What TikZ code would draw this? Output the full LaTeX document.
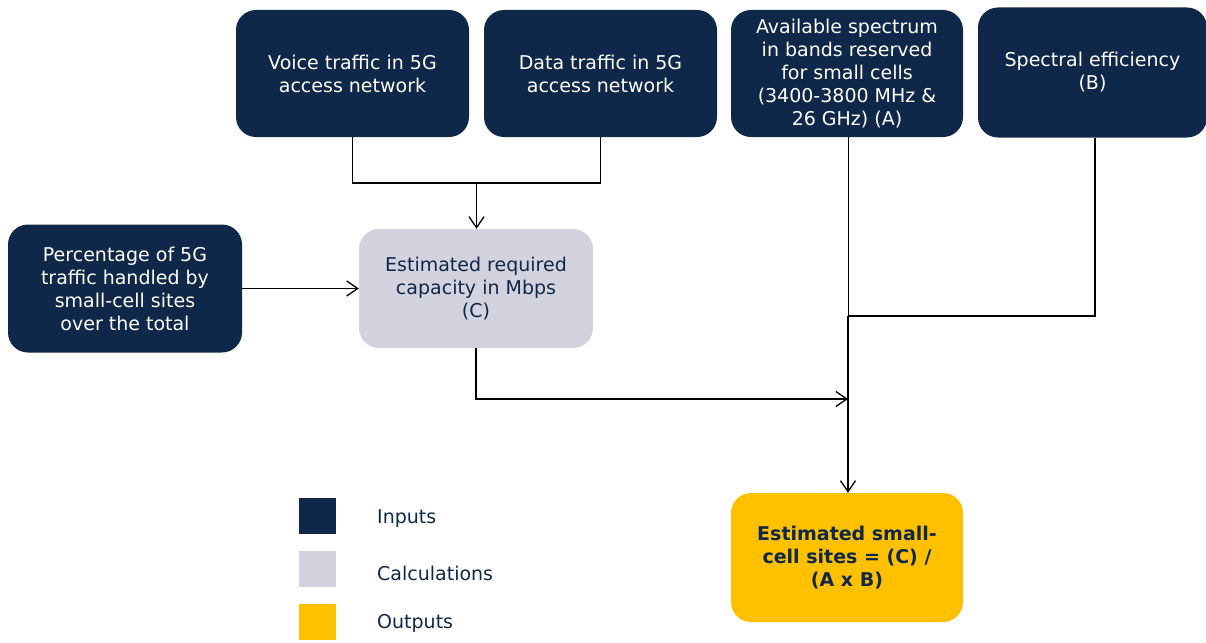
\documentclass[tikz,border=0pt]{standalone}
\usepackage{fontspec}
\setmainfont{DejaVu Sans}
\usetikzlibrary{arrows.meta}
\definecolor{navy}{HTML}{0F2849}
\definecolor{calcgray}{HTML}{D2D3DF}
\definecolor{outgold}{HTML}{FFC000}
\begin{document}
\begin{tikzpicture}[x=1pt,y=-1pt,
  base/.style={rounded corners=20pt, align=center, inner sep=0pt,
    font=\fontsize{19}{23}\selectfont},
  inbox/.style={base, fill=navy, text=white},
  calcbox/.style={base, fill=calcgray, text=navy},
  outbox/.style={base, fill=outgold, text=navy, font=\fontsize{19}{23}\selectfont\bfseries},
  legsq/.style={minimum width=37pt, minimum height=36pt, inner sep=0pt},
  legtxt/.style={anchor=west, text=navy, inner sep=0pt, font=\fontsize{19}{20}\selectfont},
  conn/.style={line width=1.3pt, black},
  thinconn/.style={line width=0.6pt, black},
  arr/.style={-{Straight Barb[length=11pt,width=15pt,line width=1.3pt]}}
]
\useasboundingbox (0,0) rectangle (1206,642);

\node[inbox, minimum width=233pt, minimum height=127pt] (voice) at (352.5,73.5)
  {Voice traffic in 5G\\access network};
\node[inbox, minimum width=233pt, minimum height=127pt] (data) at (600.5,73.5)
  {Data traffic in 5G\\access network};
\node[inbox, minimum width=232pt, minimum height=127pt] (avail) at (847,73.5)
  {Available spectrum\\in bands reserved\\for small cells\\(3400-3800 MHz \&\\26 GHz) (A)};
\node[inbox, minimum width=229pt, minimum height=130pt] (spec) at (1092.5,72.5)
  {Spectral efficiency\\(B)};
\node[inbox, minimum width=234pt, minimum height=128pt] (perc) at (125,288.5)
  {Percentage of 5G\\traffic handled by\\small-cell sites\\over the total};
\node[calcbox, minimum width=234pt, minimum height=119pt] (calc) at (476,288.5)
  {Estimated required\\capacity in Mbps\\(C)};
\node[outbox, minimum width=232pt, minimum height=129pt] (out) at (847,557.5)
  {Estimated small-\\cell sites = (C) /\\(A x B)};

\node[legsq, fill=navy] (lin) at (317.5,516) {};
\node[legsq, fill=calcgray] (lcalc) at (317.5,569) {};
\node[legsq, fill=outgold] (lout) at (317.5,622) {};
\node[legtxt] (tin) at (377,519) {Inputs};
\node[legtxt] (tcalc) at (377,573) {Calculations};
\node[legtxt] (tout) at (377,623) {Outputs};

\coordinate (m) at (476.5,183);
\coordinate (j1) at (848,316);
\coordinate (j2) at (848,399);

\draw[conn] (voice.south) |- (m) -| (data.south);
\draw[conn, arr] (m) -- (m |- calc.north);
\draw[conn, arr] (perc.east) -- (perc.east -| calc.west);
\draw[conn, arr] (calc.south) |- (j2);
\draw[thinconn] (avail.south -| j1) -- (j1);
\draw[conn] (spec.south -| 1095,0) |- (j1);
\draw[conn, arr] (j1) -- (out.north -| j1);
\end{tikzpicture}
\end{document}
